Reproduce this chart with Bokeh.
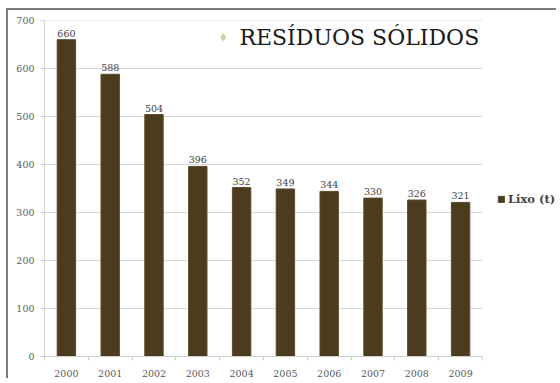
from bokeh.plotting import figure
from bokeh.models import Range1d, FixedTicker, Legend, LegendItem, Label, ColumnDataSource
from bokeh.core.properties import value
from bokeh.embed import file_html
from bokeh.resources import INLINE

years = ["2000", "2001", "2002", "2003", "2004", "2005", "2006", "2007", "2008", "2009"]
lixo = [660, 588, 504, 396, 352, 349, 344, 330, 326, 321]
y_ticks = [0, 100, 200, 300, 400, 500, 600, 700]
series_name = "Lixo (t)"
title_text = "RESÍDUOS SÓLIDOS"

n = len(years)
xpos = [i + 0.5 for i in range(n)]
src = ColumnDataSource(dict(x=xpos, top=lixo, lab=[str(v) for v in lixo]))

FONT = "DejaVu Serif"
BAR = "#4B3C1E"

# extra room to the right of the last category holds the legend
p = figure(width=550, height=370, output_backend="svg", toolbar_location=None,
           x_range=Range1d(0, n * 514 / 438), y_range=Range1d(0, 700),
           min_border_left=36, min_border_right=0, min_border_top=10, min_border_bottom=24)
p.margin = (10, 0, 0, 8)
p.styles = {"box-shadow": "-2px -2px 0 0 #7a7a7a"}
p.outline_line_color = None
p.background_fill_color = "white"
p.border_fill_color = "white"

p.xgrid.grid_line_color = None
p.ygrid.grid_line_color = None
p.segment(x0=0, x1=n, y0=y_ticks, y1=y_ticks, line_color="#d9d9d9", line_width=1, level="underlay")

r = p.vbar(x="x", top="top", width=0.42, source=src, fill_color=BAR, line_color="#5a4a2c", line_width=1)
p.text(x="x", y="top", text="lab", source=src, text_align="center", text_baseline="bottom",
       y_offset=-3, text_font=value(FONT), text_font_size="9.5px", text_color="#404040")

p.yaxis.ticker = FixedTicker(ticks=y_ticks)
p.yaxis.axis_line_color = "#d0d0d0"
p.yaxis.major_tick_line_color = "#d0d0d0"
p.yaxis.major_tick_out = 4
p.yaxis.major_tick_in = 0
p.yaxis.minor_tick_line_color = None
p.yaxis.major_label_text_font = FONT
p.yaxis.major_label_text_font_size = "9.5px"
p.yaxis.major_label_text_color = "#595959"
p.yaxis.major_label_standoff = 6

p.xaxis.ticker = FixedTicker(ticks=xpos, minor_ticks=list(range(n + 1)))
p.xaxis.bounds = (0, n)
p.xaxis.major_label_overrides = {x: y for x, y in zip(xpos, years)}
p.xaxis.axis_line_color = "#d0d0d0"
p.xaxis.major_tick_line_color = None
p.xaxis.minor_tick_line_color = "#d0d0d0"
p.xaxis.minor_tick_out = 4
p.xaxis.minor_tick_in = 0
p.xaxis.major_label_text_font = FONT
p.xaxis.major_label_text_font_size = "9.5px"
p.xaxis.major_label_text_color = "#595959"
p.xaxis.major_label_standoff = 7

p.scatter(x=[4.08], y=[665], marker="diamond", size=9, fill_color="#c9d7a6", line_color=None)
p.add_layout(Label(x=4.45, y=665, text=title_text, text_font=FONT, text_font_size="22px",
                   text_color="#1a1a1a", text_baseline="middle"))

legend = Legend(items=[LegendItem(label=series_name, renderers=[r])], location=(453, 150),
                background_fill_alpha=0, border_line_color=None, label_text_font=FONT,
                label_text_font_style="bold", label_text_font_size="11.5px",
                glyph_width=8, glyph_height=8, label_standoff=3, padding=0, margin=0)
p.add_layout(legend)

open("out.html", "w").write(file_html(p, INLINE))
